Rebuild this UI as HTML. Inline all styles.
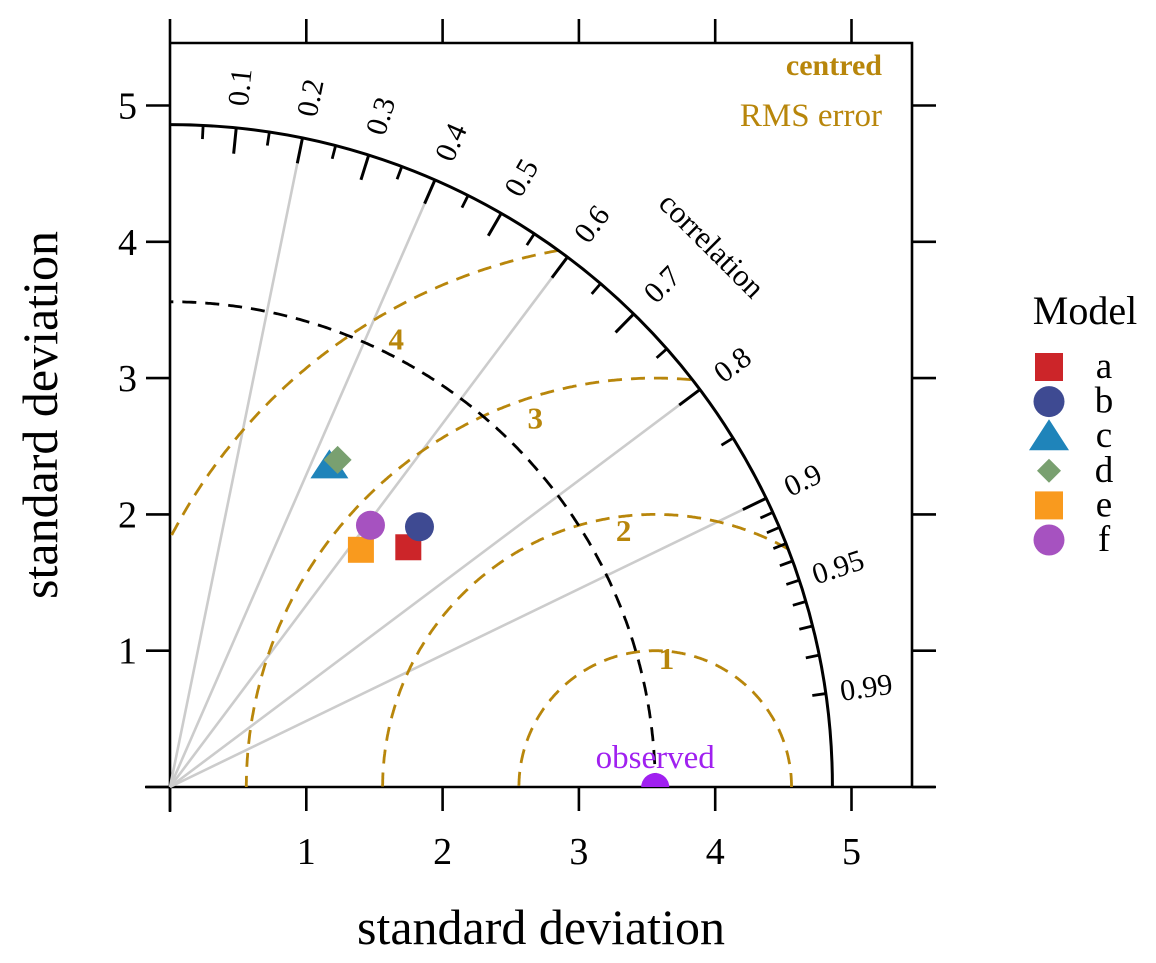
<!DOCTYPE html>
<html><head><meta charset="utf-8"><style>
body{margin:0;background:#fff}
svg{display:block;font-family:"Liberation Serif",serif}
</style></head><body>
<svg id="chart" width="1156" height="963" viewBox="0 0 1156 963" xmlns="http://www.w3.org/2000/svg">
<g id="g"></g>
</svg>
<script>
const models = ["a","b","c","d","e","f"];
const modelSd = [2.48, 2.645, 2.634, 2.697, 2.234, 2.419];
const modelCor = [0.705, 0.692, 0.444, 0.456, 0.627, 0.608];
const observedSd = 3.56;
const maxSd = 4.86;
const rmsLevels = [1,2,3,4];
const axisTicks = [0,1,2,3,4,5];
const corMajor = [0.1,0.2,0.3,0.4,0.5,0.6,0.7,0.8,0.9];
const corMinor = [0.05,0.15,0.25,0.35,0.45,0.55,0.65,0.75,0.85,0.91,0.92,0.93,0.94,0.95,0.96,0.97,0.98,0.99];
const corLabels = ["0.1","0.2","0.3","0.4","0.5","0.6","0.7","0.8","0.9","0.95","0.99"];
const corGrid = [0.2,0.4,0.6,0.8,0.9];

const NS="http://www.w3.org/2000/svg";
const g=document.getElementById('g');
const X0=170,Y0=787,K=136.3;
const sx=v=>X0+v*K, sy=v=>Y0-v*K;
function el(t,a,txt){const e=document.createElementNS(NS,t);for(const k in a)e.setAttribute(k,a[k]);if(txt!==undefined)e.textContent=txt;g.appendChild(e);return e;}
function polar(r,c){const th=Math.acos(c);return [sx(r*Math.cos(th)),sy(r*Math.sin(th))];}

let e;
e=el('path',{d:`M${X0} 43 L912 43 L912 ${Y0}`,fill:'none',stroke:'#000','stroke-width':2.6});


e=el('line',{x1:X0,y1:43,x2:X0,y2:812,stroke:'#000','stroke-width':2.6});


e=el('line',{x1:145,y1:Y0,x2:935,y2:Y0,stroke:'#000','stroke-width':2.6});


axisTicks.forEach(t=>{
  const x=sx(t),y=sy(t);
  e=el('line',{x1:x,y1:Y0,x2:x,y2:Y0+24,stroke:'#000','stroke-width':2.6});
  
  
  e=el('line',{x1:x,y1:43,x2:x,y2:19,stroke:'#000','stroke-width':2.6});
  
  
  e=el('line',{x1:X0,y1:y,x2:X0-24,y2:y,stroke:'#000','stroke-width':2.6});
  
  
  e=el('line',{x1:912,y1:y,x2:936,y2:y,stroke:'#000','stroke-width':2.6});
  
  
  if(t>0){
    e=el('text',{x:x,y:864,'font-size':38,'text-anchor':'middle'},String(t));
    
    
    e=el('text',{x:137,y:y+13,'font-size':38,'text-anchor':'end'},String(t));
    
    
  }
});
e=el('text',{x:541,y:944,'font-size':50,'text-anchor':'middle'},'standard deviation');


e=el('text',{x:0,y:0,'font-size':50,'text-anchor':'middle',transform:'translate(57,415) rotate(-90)'},'standard deviation');



corGrid.forEach(c=>{
  const [x2,y2]=polar(maxSd-0.19,c);
  e=el('line',{x1:X0,y1:Y0,x2:x2,y2:y2,stroke:'#cccccc','stroke-width':2.6});
  
  
});

function arcPts(cx,r,maxR){
  const segs=[];let cur=[];
  for(let i=0;i<=720;i++){
    const a=Math.PI*i/720;const x=cx+r*Math.cos(a),y=r*Math.sin(a);
    if(x>=0&&Math.hypot(x,y)<=maxR){cur.push(sx(x).toFixed(1)+','+sy(y).toFixed(1));}
    else if(cur.length){segs.push(cur);cur=[];}
  }
  if(cur.length)segs.push(cur);return segs;
}
const rmsLabelAng=[85,97,108,120];
rmsLevels.forEach((r,i)=>{
  arcPts(observedSd,r,maxSd).forEach(s=>{
    e=el('polyline',{points:s.join(' '),fill:'none',stroke:'#B8860B','stroke-width':2.8,'stroke-dasharray':'14 9'});
    
    
  });
  const a=rmsLabelAng[i]*Math.PI/180, rr=r*0.95;
  e=el('text',{x:sx(observedSd+rr*Math.cos(a)),y:sy(rr*Math.sin(a))+11,'font-size':31,'font-weight':'bold',fill:'#B8860B','text-anchor':'middle'},String(r));
  
  
});

arcPts(0,observedSd,99).forEach(s=>{
  e=el('polyline',{points:s.join(' '),fill:'none',stroke:'#000','stroke-width':2.8,'stroke-dasharray':'14 9'});
  
  
});

e=el('path',{d:`M${sx(0)} ${sy(maxSd)} A${maxSd*K} ${maxSd*K} 0 0 1 ${sx(maxSd)} ${Y0}`,fill:'none',stroke:'#000','stroke-width':3});


corMajor.forEach(c=>{
  const [x1,y1]=polar(maxSd,c),[x2,y2]=polar(maxSd-0.19,c);
  e=el('line',{x1,y1,x2,y2,stroke:'#000','stroke-width':3});
  
  
});
corMinor.forEach(c=>{
  const [x1,y1]=polar(maxSd,c),[x2,y2]=polar(maxSd-0.1,c);
  e=el('line',{x1,y1,x2,y2,stroke:'#000','stroke-width':2.8});
  
  
});
corLabels.forEach(l=>{
  const c=parseFloat(l);const [x,y]=polar(5.16,c);const deg=Math.acos(c)*180/Math.PI;
  e=el('text',{x:0,y:0,'font-size':30,'text-anchor':'middle','dominant-baseline':'central',transform:`translate(${x},${y}) rotate(${-deg})`},l);
  
  
});
e=el('text',{x:0,y:0,'font-size':31,'text-anchor':'middle','dominant-baseline':'central',transform:'translate(712,245) rotate(45)'},'correlation');


e=el('text',{x:882,y:75,'font-size':30,'font-weight':'bold',fill:'#B8860B','text-anchor':'end'},'centred');


e=el('text',{x:882,y:126,'font-size':33,fill:'#B8860B','text-anchor':'end'},'RMS error');



el('clipPath',{id:'clp'}).innerHTML='<rect x="170" y="43" width="742" height="744"/>';
e=el('circle',{cx:sx(observedSd),cy:Y0,r:14,fill:'#A020F0','clip-path':'url(#clp)'});


e=el('text',{x:sx(observedSd),y:768,'font-size':33,fill:'#A020F0','text-anchor':'middle'},'observed');



const cols=['#CC2529','#3E4A92','#1F84BA','#79A070','#F99A1E','#A652C0'];
function marker(i,cx,cy,s){
  const c=cols[i];
  if(i===0||i===4) return el('rect',{x:cx-s,y:cy-s,width:2*s,height:2*s,fill:c});
  if(i===1||i===5) return el('circle',{cx,cy,r:s+1.5,fill:c});
  if(i===2) return el('polygon',{points:`${cx},${cy-s-3} ${cx-s-6},${cy+s} ${cx+s+6},${cy+s}`,fill:c});
  return el('polygon',{points:`${cx},${cy-s-1} ${cx+s+1},${cy} ${cx},${cy+s+1} ${cx-s-1},${cy}`,fill:c});
}
models.forEach((m,i)=>{
  const [x,y]=polar(modelSd[i],modelCor[i]);
  e=marker(i,x,y,13);
  
  
});

e=el('text',{x:1085,y:324,'font-size':40,'text-anchor':'middle'},'Model');


models.forEach((m,i)=>{
  const y=367+i*34.6;
  e=marker(i,1049,y,i===3?11:14);
  
  
  e=el('text',{x:1104,y:y+11,'font-size':37,'text-anchor':'middle'},m);
  
  
});
</script>
</body></html>
